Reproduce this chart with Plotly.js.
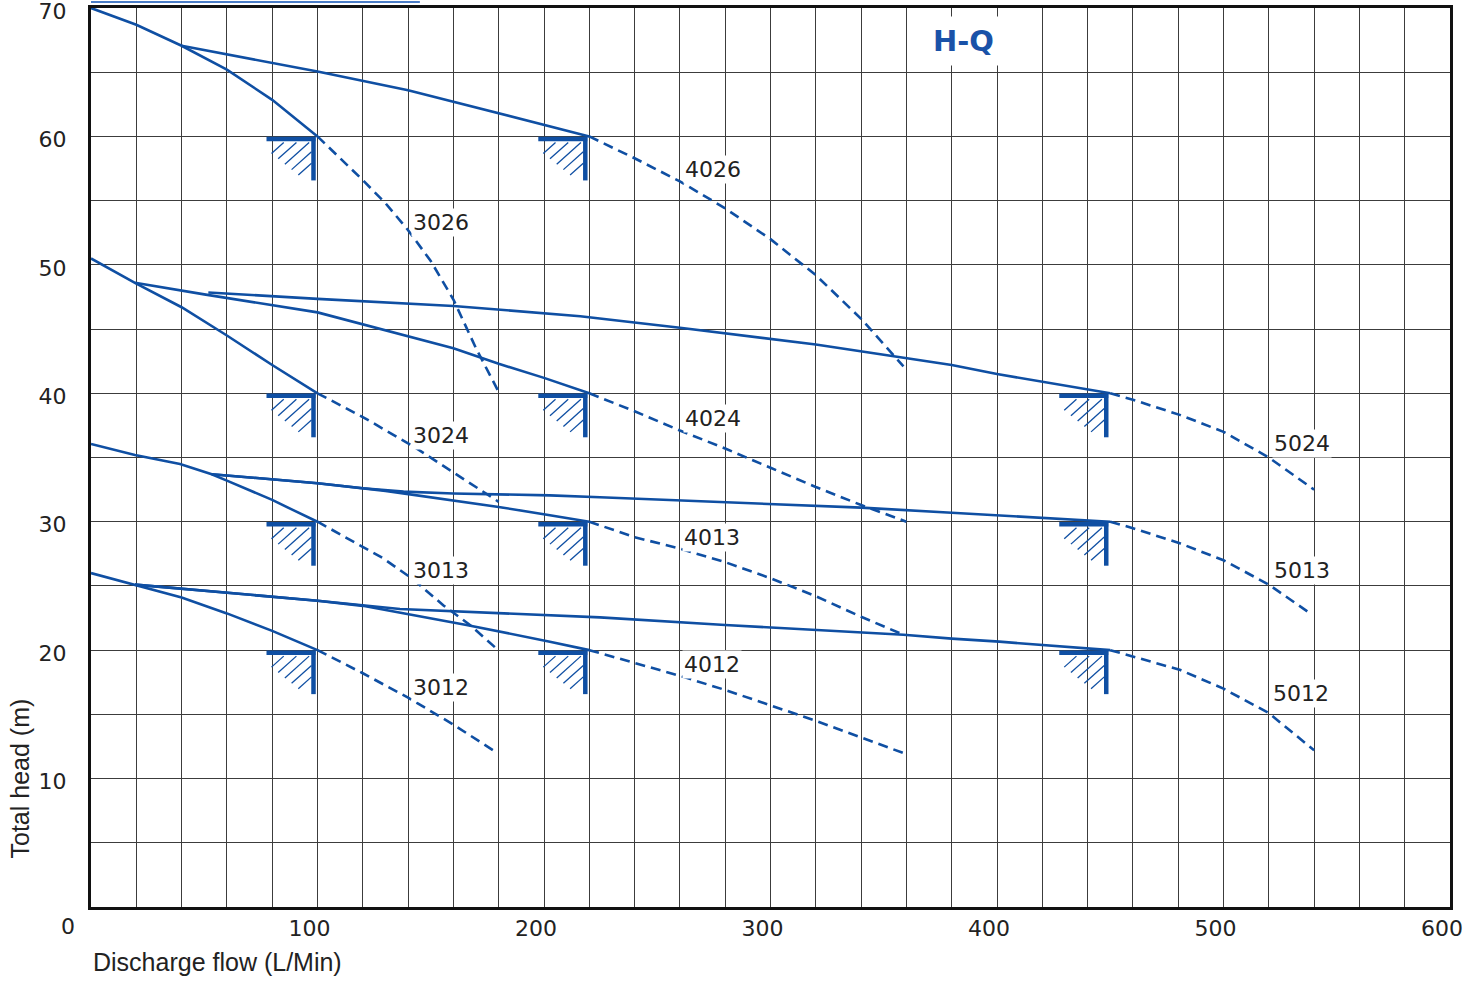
<!DOCTYPE html>
<html>
<head>
<meta charset="utf-8">
<script src="https://cdn.plot.ly/plotly-3.0.1.min.js"></script>
<style>html,body{margin:0;padding:0;background:#fff;}#chart{width:1483px;height:981px;}</style>
</head>
<body>
<div id="chart"></div>
<script>
// ---- data ----
const models = ['3026','4026','3024','4024','5024','3013','4013','5013','3012','4012','5012'];
const ratedQ = [100, 220, 100, 220, 450, 100, 220, 450, 100, 220, 450];
const ratedH = [60, 60, 40, 40, 40, 30, 30, 30, 20, 20, 20];

const q3026 = [0, 20, 40, 60, 80, 100, 120, 130, 140, 150, 160, 170, 180];
const h3026 = [70, 68.7, 67.06, 65.2, 62.85, 60, 56.6, 54.8, 52.7, 50.3, 47.3, 43.5, 40.1];

const q4026 = [40, 100, 140, 180, 220, 240, 260, 280, 300, 320, 340, 358.7];
const h4026 = [67.06, 65.05, 63.6, 61.8, 60, 58.3, 56.5, 54.4, 52.0, 49.2, 45.8, 42.1];

const q3024 = [0, 19.4, 40, 60, 80, 100, 120, 142, 160, 180];
const h3024 = [50.5, 48.6, 46.7, 44.5, 42.2, 40, 38.15, 35.9, 33.85, 31.55];

const q4024 = [19.4, 50, 100, 140, 160, 180, 200, 220, 240, 260, 280, 300, 320, 340, 360];
const h4024 = [48.6, 47.7, 46.3, 44.4, 43.5, 42.3, 41.2, 40, 38.6, 37.1, 35.7, 34.2, 32.7, 31.3, 30.0];

const q5024 = [51.8, 100, 160, 216, 260, 320, 380, 400, 450, 460, 481, 500, 520, 540];
const h5024 = [47.85, 47.35, 46.8, 46.0, 45.1, 43.8, 42.2, 41.5, 40, 39.5, 38.3, 37.0, 35.0, 32.5];

const q3013 = [0, 19.4, 39.3, 53.3, 60, 80, 89.3, 100, 114.3, 129, 142.3, 155.5, 167.3, 179.8];
const h3013 = [36.05, 35.2, 34.5, 33.7, 33.2, 31.7, 30.9, 30, 28.6, 27.15, 25.5, 23.5, 21.96, 20.0];

const q4013 = [53.3, 100, 130, 160, 180, 202.6, 220, 240, 260, 280, 300, 320, 340, 358.7];
const h4013 = [33.7, 33.0, 32.4, 31.65, 31.15, 30.5, 30, 28.8, 27.9, 26.85, 25.6, 24.2, 22.6, 21.2];

const q5013 = [53.3, 100, 120, 138, 160, 202.6, 224.7, 280, 340, 380, 401, 450, 460, 481, 500, 520, 538];
const h5013 = [33.7, 33.0, 32.6, 32.34, 32.2, 32.05, 31.9, 31.5, 31.1, 30.7, 30.5, 30.0, 29.5, 28.3, 27.0, 25.1, 22.9];

const q3012 = [0, 19.4, 40, 60, 80, 100, 120, 140, 160, 178.4];
const h3012 = [26, 25.1, 24.1, 22.86, 21.5, 20, 18.2, 16.3, 14.2, 12.1];

const q4012 = [19.4, 100, 120, 140, 165.8, 202.6, 220, 240, 260, 280, 300, 320, 340, 360];
const h4012 = [25.1, 23.85, 23.45, 22.8, 21.96, 20.66, 20, 19.0, 18.0, 16.9, 15.7, 14.5, 13.2, 11.9];

const q5012 = [19.4, 100, 136.4, 202.6, 224.7, 280, 358.7, 380, 401, 450, 460, 481, 500, 520, 540];
const h5012 = [25.1, 23.85, 23.2, 22.74, 22.55, 21.96, 21.2, 20.9, 20.66, 20.0, 19.5, 18.45, 17.0, 15.1, 12.2];

const curveQ = [q3026, q4026, q3024, q4024, q5024, q3013, q4013, q5013, q3012, q4012, q5012];
const curveH = [h3026, h4026, h3024, h4024, h5024, h3013, h4013, h5013, h3012, h4012, h5012];

// label anchor positions (layout only)
const labelQ = [154.5, 274.6, 154.5, 274.6, 534.5, 154.5, 274.2, 534.5, 154.5, 274.2, 534.1];
const labelH = [53.26, 57.4, 36.75, 38.0, 36.1, 26.2, 28.8, 26.2, 17.1, 18.9, 16.6];

const xTicks = [100, 200, 300, 400, 500, 600];
const yTicks = [10, 20, 30, 40, 50, 60, 70];

// ---- build ----
const BLUE = '#0f4fa3';
const traces = [];
models.forEach((m, i) => {
  const q = curveQ[i], h = curveH[i], rq = ratedQ[i];
  const sq = [], sh = [], dq = [], dh = [];
  q.forEach((v, k) => {
    if (v <= rq) { sq.push(v); sh.push(h[k]); }
    if (v >= rq) { dq.push(v); dh.push(h[k]); }
  });
  traces.push({x: sq, y: sh, mode: 'lines', line: {color: BLUE, width: 2.6}, hoverinfo: 'skip', showlegend: false});
  traces.push({x: dq, y: dh, mode: 'lines', line: {color: BLUE, width: 2.6, dash: '10px,6px'}, hoverinfo: 'skip', showlegend: false});
});

const shapes = [];
function pixLine(q, h, x0, y0, x1, y1, w) {
  shapes.push({type: 'line', xref: 'x', yref: 'y', xsizemode: 'pixel', ysizemode: 'pixel',
    xanchor: q, yanchor: h, x0: x0, x1: x1, y0: -y0, y1: -y1,
    line: {color: BLUE, width: w}, layer: 'above'});
}
ratedQ.forEach((q, i) => {
  const h = ratedH[i];
  pixLine(q, h, -51, 2.5, -2, 2.5, 4.5);      // horizontal bar
  pixLine(q, h, -4, 0.5, -4, 44, 4.5);        // vertical bar
  for (let k = 0; k < 5; k++) {
    const sx = -46 + 6.7 * k, sy = 17 + 5.4 * k;
    let ex = sx + (sy - 6) / 0.9, ey = 6;
    if (ex > -6) { ex = -6; ey = sy - (ex - sx) * 0.9; }
    pixLine(q, h, sx, sy, ex, ey, 1.3);
  }
});
// thin blue line above the frame (top-left)
shapes.push({type: 'line', xref: 'paper', yref: 'paper', x0: 0, x1: 0.242, y0: 1.0067, y1: 1.0067,
  line: {color: '#4a7cc6', width: 2}});

const annotations = models.map((m, i) => ({
  x: labelQ[i], y: labelH[i], xref: 'x', yref: 'y', text: m, showarrow: false,
  font: {family: 'DejaVu Sans', size: 22, color: '#222'}, bgcolor: '#fff', borderpad: 1
}));
annotations.push({x: 385.4, y: 67.4, xref: 'x', yref: 'y', text: '<b>H-Q</b>', showarrow: false,
  font: {family: 'DejaVu Sans', size: 29, color: '#1a52a8'}, bgcolor: '#fff', borderpad: 7});
annotations.push({x: 0, y: -0.0612, xref: 'paper', yref: 'paper', xanchor: 'left', yanchor: 'middle',
  text: 'Discharge flow (L/Min)', showarrow: false, font: {family: 'Liberation Sans', size: 25, color: '#222'}});
annotations.push({x: -0.0522, y: 0.143, xref: 'paper', yref: 'paper', xanchor: 'center', yanchor: 'middle',
  text: 'Total head (m)', textangle: -90, showarrow: false, font: {family: 'Liberation Sans', size: 25, color: '#222'}});
annotations.push({x: -0.0169, y: -0.0222, xref: 'paper', yref: 'paper', xanchor: 'center', yanchor: 'middle',
  text: '0', showarrow: false, font: {family: 'DejaVu Sans', size: 22, color: '#222'}});

const GRID = '#3c3c3c';
const layout = {
  width: 1483, height: 981,
  margin: {l: 91, r: 33, t: 8, b: 74},
  paper_bgcolor: '#fff', plot_bgcolor: '#fff',
  showlegend: false,
  xaxis: {range: [0, 600], tickvals: xTicks, ticktext: xTicks.map(String), showgrid: true, gridcolor: GRID, gridwidth: 1,
    minor: {dtick: 20, tick0: 0, showgrid: true, gridcolor: GRID, gridwidth: 1},
    zeroline: false, showline: true, mirror: true, linecolor: '#111', linewidth: 3, ticks: '',
    ticklabelshift: -8, ticklabelstandoff: 0, ticklabeloverflow: 'allow',
    tickfont: {family: 'DejaVu Sans', size: 22, color: '#222'}},
  yaxis: {range: [0, 70], tickvals: yTicks, ticktext: yTicks.map(String), showgrid: true, gridcolor: GRID, gridwidth: 1,
    minor: {dtick: 5, tick0: 0, showgrid: true, gridcolor: GRID, gridwidth: 1},
    zeroline: false, showline: true, mirror: true, linecolor: '#111', linewidth: 3, ticks: '',
    ticklabelstandoff: 17, ticklabelshift: 3, ticklabeloverflow: 'allow',
    tickfont: {family: 'DejaVu Sans', size: 22, color: '#222'}},
  shapes: shapes,
  annotations: annotations
};
Plotly.newPlot('chart', traces, layout, {staticPlot: true, displayModeBar: false});
</script>
</body>
</html>
